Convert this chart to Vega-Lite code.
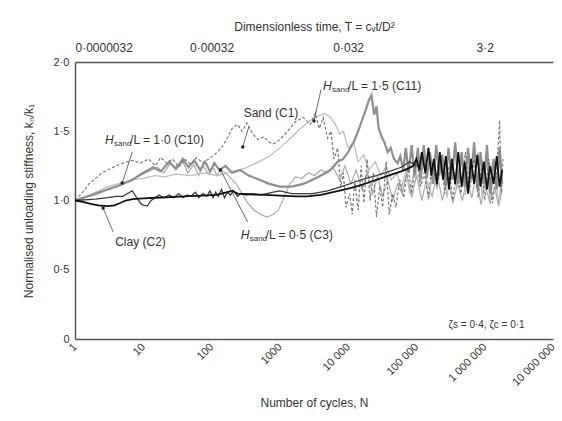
{
"$schema": "https://vega.github.io/schema/vega-lite/v6.json",
"width": 478, "height": 277,
"autosize": {"type": "none"},
"padding": {"left": 75, "top": 62, "right": 9, "bottom": 82},
"background": "white",
"config": {"font": "Liberation Sans", "view": {"stroke": null}},
"datasets": {
"lines": [
{"s":"C3","n":1,"k":1.0},{"s":"C3","n":2,"k":1.04},{"s":"C3","n":3,"k":1.08},{"s":"C3","n":5,"k":1.12},{"s":"C3","n":8,"k":1.17},{"s":"C3","n":12,"k":1.21},{"s":"C3","n":16,"k":1.24},{"s":"C3","n":20,"k":1.2},{"s":"C3","n":25,"k":1.27},{"s":"C3","n":30,"k":1.22},{"s":"C3","n":38,"k":1.28},{"s":"C3","n":45,"k":1.2},{"s":"C3","n":55,"k":1.26},{"s":"C3","n":65,"k":1.18},{"s":"C3","n":75,"k":1.25},{"s":"C3","n":90,"k":1.19},{"s":"C3","n":105,"k":1.24},{"s":"C3","n":120,"k":1.18},{"s":"C3","n":135,"k":1.22},{"s":"C3","n":160,"k":1.2},{"s":"C3","n":190,"k":1.16},{"s":"C3","n":230,"k":1.12},{"s":"C3","n":280,"k":1.05},{"s":"C3","n":340,"k":0.98},{"s":"C3","n":420,"k":0.93},{"s":"C3","n":520,"k":0.9},{"s":"C3","n":650,"k":0.88},{"s":"C3","n":800,"k":0.9},{"s":"C3","n":950,"k":0.93},{"s":"C3","n":1150,"k":1.02},{"s":"C3","n":1400,"k":1.12},{"s":"C3","n":1700,"k":1.17},{"s":"C3","n":2100,"k":1.16},{"s":"C3","n":2600,"k":1.2},{"s":"C3","n":3200,"k":1.18},{"s":"C3","n":4000,"k":1.22},{"s":"C3","n":5000,"k":1.2},{"s":"C3","n":6000,"k":1.24},{"s":"C3","n":7500,"k":1.15},{"s":"C3","n":9000,"k":1.25},{"s":"C3","n":11000,"k":1.12},{"s":"C3","n":13000,"k":1.22},{"s":"C3","n":16000,"k":1.08},{"s":"C3","n":19000,"k":1.2},{"s":"C3","n":23000,"k":1.05},{"s":"C3","n":27000,"k":1.18},{"s":"C3","n":32000,"k":1.03},{"s":"C3","n":38000,"k":1.15},{"s":"C3","n":45000,"k":1.0},{"s":"C3","n":53000,"k":1.12},{"s":"C3","n":62000,"k":1.05},{"s":"C3","n":72000,"k":1.2},{"s":"C3","n":85000,"k":1.02},{"s":"C3","n":100000,"k":1.18},{"s":"C3","n":120000,"k":1.0},{"s":"C3","n":140000,"k":1.15},{"s":"C3","n":170000,"k":1.03},{"s":"C3","n":200000,"k":1.2},{"s":"C3","n":240000,"k":1.0},{"s":"C3","n":290000,"k":1.17},{"s":"C3","n":340000,"k":0.98},{"s":"C3","n":400000,"k":1.12},{"s":"C3","n":470000,"k":1.0},{"s":"C3","n":550000,"k":1.15},{"s":"C3","n":650000,"k":1.02},{"s":"C3","n":750000,"k":1.2},{"s":"C3","n":880000,"k":0.97},{"s":"C3","n":1000000,"k":1.12},{"s":"C3","n":1200000,"k":0.98},{"s":"C3","n":1400000,"k":1.1},{"s":"C3","n":1600000,"k":0.96},{"s":"C3","n":1800000,"k":1.08},
{"s":"C10","n":1,"k":1.0},{"s":"C10","n":1.5,"k":1.03},{"s":"C10","n":2,"k":1.06},{"s":"C10","n":3,"k":1.1},{"s":"C10","n":5,"k":1.13},{"s":"C10","n":7,"k":1.15},{"s":"C10","n":10,"k":1.16},{"s":"C10","n":15,"k":1.18},{"s":"C10","n":20,"k":1.17},{"s":"C10","n":30,"k":1.19},{"s":"C10","n":50,"k":1.18},{"s":"C10","n":80,"k":1.2},{"s":"C10","n":120,"k":1.18},{"s":"C10","n":150,"k":1.19},{"s":"C10","n":200,"k":1.21},{"s":"C10","n":300,"k":1.23},{"s":"C10","n":450,"k":1.27},{"s":"C10","n":700,"k":1.32},{"s":"C10","n":1000,"k":1.38},{"s":"C10","n":1500,"k":1.46},{"s":"C10","n":2000,"k":1.52},{"s":"C10","n":3000,"k":1.59},{"s":"C10","n":4500,"k":1.63},{"s":"C10","n":5500,"k":1.6},{"s":"C10","n":6500,"k":1.55},{"s":"C10","n":7500,"k":1.48},{"s":"C10","n":8500,"k":1.5},{"s":"C10","n":10000,"k":1.38},{"s":"C10","n":12000,"k":1.42},{"s":"C10","n":14000,"k":1.28},{"s":"C10","n":17000,"k":1.33},{"s":"C10","n":20000,"k":1.22},{"s":"C10","n":25000,"k":1.28},{"s":"C10","n":30000,"k":1.18},{"s":"C10","n":36000,"k":1.25},{"s":"C10","n":43000,"k":1.15},{"s":"C10","n":52000,"k":1.2},{"s":"C10","n":60000,"k":1.08},{"s":"C10","n":70000,"k":1.22},{"s":"C10","n":80000,"k":1.05},{"s":"C10","n":95000,"k":1.25},{"s":"C10","n":110000,"k":1.1},{"s":"C10","n":130000,"k":1.3},{"s":"C10","n":150000,"k":1.0},{"s":"C10","n":175000,"k":1.22},{"s":"C10","n":200000,"k":1.08},{"s":"C10","n":240000,"k":1.3},{"s":"C10","n":280000,"k":1.02},{"s":"C10","n":320000,"k":1.25},{"s":"C10","n":380000,"k":1.1},{"s":"C10","n":450000,"k":1.32},{"s":"C10","n":520000,"k":1.04},{"s":"C10","n":600000,"k":1.28},{"s":"C10","n":700000,"k":1.12},{"s":"C10","n":800000,"k":1.35},{"s":"C10","n":920000,"k":1.02},{"s":"C10","n":1050000,"k":1.3},{"s":"C10","n":1200000,"k":1.0},{"s":"C10","n":1400000,"k":1.22},{"s":"C10","n":1600000,"k":0.98},{"s":"C10","n":1800000,"k":1.2},
{"s":"C11","n":1,"k":1.0},{"s":"C11","n":2,"k":1.05},{"s":"C11","n":4,"k":1.1},{"s":"C11","n":7,"k":1.15},{"s":"C11","n":10,"k":1.2},{"s":"C11","n":14,"k":1.24},{"s":"C11","n":18,"k":1.21},{"s":"C11","n":24,"k":1.28},{"s":"C11","n":30,"k":1.23},{"s":"C11","n":38,"k":1.3},{"s":"C11","n":46,"k":1.24},{"s":"C11","n":56,"k":1.29},{"s":"C11","n":68,"k":1.22},{"s":"C11","n":80,"k":1.28},{"s":"C11","n":95,"k":1.21},{"s":"C11","n":110,"k":1.27},{"s":"C11","n":130,"k":1.22},{"s":"C11","n":160,"k":1.25},{"s":"C11","n":200,"k":1.2},{"s":"C11","n":260,"k":1.22},{"s":"C11","n":350,"k":1.18},{"s":"C11","n":500,"k":1.15},{"s":"C11","n":700,"k":1.12},{"s":"C11","n":1000,"k":1.1},{"s":"C11","n":1500,"k":1.1},{"s":"C11","n":2200,"k":1.12},{"s":"C11","n":3000,"k":1.15},{"s":"C11","n":4000,"k":1.18},{"s":"C11","n":5500,"k":1.22},{"s":"C11","n":7000,"k":1.28},{"s":"C11","n":8500,"k":1.3},{"s":"C11","n":10000,"k":1.35},{"s":"C11","n":12000,"k":1.42},{"s":"C11","n":14000,"k":1.5},{"s":"C11","n":16000,"k":1.58},{"s":"C11","n":18000,"k":1.65},{"s":"C11","n":20000,"k":1.72},{"s":"C11","n":22000,"k":1.76},{"s":"C11","n":24000,"k":1.62},{"s":"C11","n":26000,"k":1.68},{"s":"C11","n":28000,"k":1.52},{"s":"C11","n":31000,"k":1.46},{"s":"C11","n":34000,"k":1.42},{"s":"C11","n":38000,"k":1.35},{"s":"C11","n":42000,"k":1.38},{"s":"C11","n":47000,"k":1.3},{"s":"C11","n":53000,"k":1.27},{"s":"C11","n":58000,"k":1.32},{"s":"C11","n":64000,"k":1.22},{"s":"C11","n":70000,"k":1.38},{"s":"C11","n":77000,"k":1.2},{"s":"C11","n":85000,"k":1.4},{"s":"C11","n":94000,"k":1.18},{"s":"C11","n":105000,"k":1.38},{"s":"C11","n":115000,"k":1.15},{"s":"C11","n":128000,"k":1.4},{"s":"C11","n":142000,"k":1.16},{"s":"C11","n":158000,"k":1.35},{"s":"C11","n":175000,"k":1.12},{"s":"C11","n":195000,"k":1.4},{"s":"C11","n":215000,"k":1.18},{"s":"C11","n":240000,"k":1.33},{"s":"C11","n":265000,"k":1.1},{"s":"C11","n":295000,"k":1.38},{"s":"C11","n":330000,"k":1.15},{"s":"C11","n":370000,"k":1.42},{"s":"C11","n":410000,"k":1.12},{"s":"C11","n":460000,"k":1.35},{"s":"C11","n":510000,"k":1.1},{"s":"C11","n":570000,"k":1.38},{"s":"C11","n":630000,"k":1.15},{"s":"C11","n":700000,"k":1.42},{"s":"C11","n":780000,"k":1.08},{"s":"C11","n":870000,"k":1.35},{"s":"C11","n":970000,"k":1.12},{"s":"C11","n":1080000,"k":1.4},{"s":"C11","n":1200000,"k":1.05},{"s":"C11","n":1350000,"k":1.3},{"s":"C11","n":1500000,"k":1.08},{"s":"C11","n":1650000,"k":1.38},{"s":"C11","n":1800000,"k":1.12},
{"s":"C1","n":1,"k":1.0},{"s":"C1","n":1.3,"k":1.06},{"s":"C1","n":1.6,"k":1.12},{"s":"C1","n":2,"k":1.16},{"s":"C1","n":2.5,"k":1.2},{"s":"C1","n":3,"k":1.22},{"s":"C1","n":4,"k":1.25},{"s":"C1","n":5,"k":1.27},{"s":"C1","n":7,"k":1.29},{"s":"C1","n":9,"k":1.27},{"s":"C1","n":12,"k":1.3},{"s":"C1","n":15,"k":1.25},{"s":"C1","n":18,"k":1.31},{"s":"C1","n":22,"k":1.27},{"s":"C1","n":27,"k":1.3},{"s":"C1","n":33,"k":1.24},{"s":"C1","n":40,"k":1.3},{"s":"C1","n":50,"k":1.26},{"s":"C1","n":60,"k":1.31},{"s":"C1","n":75,"k":1.27},{"s":"C1","n":90,"k":1.3},{"s":"C1","n":110,"k":1.33},{"s":"C1","n":140,"k":1.38},{"s":"C1","n":170,"k":1.45},{"s":"C1","n":200,"k":1.52},{"s":"C1","n":240,"k":1.55},{"s":"C1","n":280,"k":1.5},{"s":"C1","n":330,"k":1.56},{"s":"C1","n":400,"k":1.48},{"s":"C1","n":480,"k":1.44},{"s":"C1","n":580,"k":1.46},{"s":"C1","n":700,"k":1.42},{"s":"C1","n":820,"k":1.41},{"s":"C1","n":1000,"k":1.44},{"s":"C1","n":1300,"k":1.5},{"s":"C1","n":1700,"k":1.57},{"s":"C1","n":2200,"k":1.6},{"s":"C1","n":2800,"k":1.55},{"s":"C1","n":3300,"k":1.63},{"s":"C1","n":3800,"k":1.52},{"s":"C1","n":4300,"k":1.6},{"s":"C1","n":5000,"k":1.45},{"s":"C1","n":5600,"k":1.5},{"s":"C1","n":6200,"k":1.3},{"s":"C1","n":7000,"k":1.38},{"s":"C1","n":7800,"k":1.1},{"s":"C1","n":8500,"k":1.2},{"s":"C1","n":9300,"k":0.95},{"s":"C1","n":10500,"k":1.05},{"s":"C1","n":11500,"k":0.9},{"s":"C1","n":12500,"k":1.15},{"s":"C1","n":14000,"k":0.93},{"s":"C1","n":15500,"k":1.25},{"s":"C1","n":17000,"k":0.98},{"s":"C1","n":19000,"k":1.3},{"s":"C1","n":21000,"k":1.0},{"s":"C1","n":23500,"k":1.2},{"s":"C1","n":26000,"k":0.88},{"s":"C1","n":29000,"k":1.1},{"s":"C1","n":32000,"k":0.95},{"s":"C1","n":36000,"k":1.28},{"s":"C1","n":40000,"k":0.9},{"s":"C1","n":45000,"k":1.05},{"s":"C1","n":50000,"k":0.95},{"s":"C1","n":57000,"k":1.15},{"s":"C1","n":65000,"k":1.02},{"s":"C1","n":75000,"k":1.25},{"s":"C1","n":85000,"k":1.05},{"s":"C1","n":100000,"k":1.3},{"s":"C1","n":115000,"k":1.1},{"s":"C1","n":130000,"k":1.2},{"s":"C1","n":150000,"k":1.02},{"s":"C1","n":170000,"k":1.28},{"s":"C1","n":200000,"k":1.1},{"s":"C1","n":230000,"k":1.3},{"s":"C1","n":260000,"k":1.05},{"s":"C1","n":300000,"k":1.25},{"s":"C1","n":340000,"k":1.0},{"s":"C1","n":390000,"k":1.22},{"s":"C1","n":450000,"k":1.05},{"s":"C1","n":520000,"k":1.35},{"s":"C1","n":600000,"k":1.08},{"s":"C1","n":700000,"k":1.3},{"s":"C1","n":800000,"k":1.02},{"s":"C1","n":900000,"k":1.25},{"s":"C1","n":1000000,"k":1.0},{"s":"C1","n":1150000,"k":1.3},{"s":"C1","n":1300000,"k":0.98},{"s":"C1","n":1500000,"k":1.2},{"s":"C1","n":1650000,"k":1.58},{"s":"C1","n":1750000,"k":1.05},{"s":"C1","n":1850000,"k":1.3},
{"s":"C2b","n":1,"k":1.0},{"s":"C2b","n":2,"k":1.01},{"s":"C2b","n":3,"k":1.02},{"s":"C2b","n":4,"k":1.03},{"s":"C2b","n":5,"k":1.03},{"s":"C2b","n":6.9,"k":1.07},{"s":"C2b","n":8,"k":1.02},{"s":"C2b","n":9.5,"k":0.97},{"s":"C2b","n":11.4,"k":0.96},{"s":"C2b","n":13,"k":1.0},{"s":"C2b","n":15,"k":1.02},{"s":"C2b","n":17,"k":1.04},{"s":"C2b","n":20,"k":1.02},{"s":"C2b","n":24,"k":1.04},{"s":"C2b","n":28,"k":1.02},{"s":"C2b","n":33,"k":1.05},{"s":"C2b","n":38,"k":1.02},{"s":"C2b","n":44,"k":1.04},{"s":"C2b","n":50,"k":1.03},{"s":"C2b","n":58,"k":1.06},{"s":"C2b","n":65,"k":1.02},{"s":"C2b","n":75,"k":1.05},{"s":"C2b","n":85,"k":1.03},{"s":"C2b","n":95,"k":1.07},{"s":"C2b","n":105,"k":1.02},{"s":"C2b","n":115,"k":1.06},{"s":"C2b","n":125,"k":1.03},{"s":"C2b","n":140,"k":1.08},{"s":"C2b","n":155,"k":1.02},{"s":"C2b","n":170,"k":1.06},{"s":"C2b","n":190,"k":1.04},{"s":"C2b","n":210,"k":1.07},{"s":"C2b","n":240,"k":1.03},{"s":"C2b","n":270,"k":1.05},{"s":"C2b","n":320,"k":1.04},{"s":"C2b","n":400,"k":1.05},{"s":"C2b","n":500,"k":1.04},{"s":"C2b","n":650,"k":1.05},{"s":"C2b","n":800,"k":1.06},{"s":"C2b","n":1000,"k":1.07},{"s":"C2b","n":1200,"k":1.06},{"s":"C2b","n":1500,"k":1.05},{"s":"C2b","n":2000,"k":1.05},{"s":"C2b","n":3000,"k":1.05},{"s":"C2b","n":5000,"k":1.07},{"s":"C2b","n":8000,"k":1.1},{"s":"C2b","n":12000,"k":1.13},{"s":"C2b","n":18000,"k":1.16},{"s":"C2b","n":26000,"k":1.18},{"s":"C2b","n":40000,"k":1.21},{"s":"C2b","n":60000,"k":1.24},{"s":"C2b","n":80000,"k":1.28},{"s":"C2b","n":100000,"k":1.25},
{"s":"C2","n":1,"k":1.0},{"s":"C2","n":1.3,"k":0.99},{"s":"C2","n":1.7,"k":0.975},{"s":"C2","n":2.2,"k":0.965},{"s":"C2","n":3,"k":0.96},{"s":"C2","n":3.8,"k":0.965},{"s":"C2","n":4.5,"k":0.98},{"s":"C2","n":5.5,"k":1.0},{"s":"C2","n":7,"k":1.01},{"s":"C2","n":10,"k":1.015},{"s":"C2","n":15,"k":1.02},{"s":"C2","n":25,"k":1.025},{"s":"C2","n":40,"k":1.03},{"s":"C2","n":70,"k":1.035},{"s":"C2","n":120,"k":1.04},{"s":"C2","n":170,"k":1.06},{"s":"C2","n":200,"k":1.07},{"s":"C2","n":240,"k":1.05},{"s":"C2","n":350,"k":1.045},{"s":"C2","n":600,"k":1.04},{"s":"C2","n":1000,"k":1.035},{"s":"C2","n":1700,"k":1.03},{"s":"C2","n":2500,"k":1.03},{"s":"C2","n":4000,"k":1.04},{"s":"C2","n":6000,"k":1.06},{"s":"C2","n":9000,"k":1.08},{"s":"C2","n":13000,"k":1.1},{"s":"C2","n":20000,"k":1.13},{"s":"C2","n":30000,"k":1.16},{"s":"C2","n":45000,"k":1.19},{"s":"C2","n":60000,"k":1.21},{"s":"C2","n":75000,"k":1.23},{"s":"C2","n":90000,"k":1.25},{"s":"C2","n":100000,"k":1.3},{"s":"C2","n":110000,"k":1.22},{"s":"C2","n":120000,"k":1.35},{"s":"C2","n":135000,"k":1.2},{"s":"C2","n":150000,"k":1.38},{"s":"C2","n":165000,"k":1.18},{"s":"C2","n":180000,"k":1.3},{"s":"C2","n":200000,"k":1.12},{"s":"C2","n":220000,"k":1.35},{"s":"C2","n":245000,"k":1.15},{"s":"C2","n":270000,"k":1.32},{"s":"C2","n":300000,"k":1.08},{"s":"C2","n":330000,"k":1.3},{"s":"C2","n":370000,"k":1.12},{"s":"C2","n":410000,"k":1.35},{"s":"C2","n":460000,"k":1.1},{"s":"C2","n":510000,"k":1.28},{"s":"C2","n":570000,"k":1.05},{"s":"C2","n":630000,"k":1.3},{"s":"C2","n":700000,"k":1.12},{"s":"C2","n":780000,"k":1.33},{"s":"C2","n":870000,"k":1.1},{"s":"C2","n":970000,"k":1.28},{"s":"C2","n":1080000,"k":1.08},{"s":"C2","n":1200000,"k":1.25},{"s":"C2","n":1350000,"k":1.12},{"s":"C2","n":1500000,"k":1.32},{"s":"C2","n":1650000,"k":1.1},{"s":"C2","n":1800000,"k":1.22}
],
"plain": [
{"t":"Sand (C1)","n":295,"k":1.63},
{"t":"Clay (C2)","n":3.87,"k":0.7}
],
"hlabels": [
{"t":"/L = 1·0 (C10)","n":2.76,"k":1.437},
{"t":"/L = 1·5 (C11)","n":4300,"k":1.83},
{"t":"/L = 0·5 (C3)","n":267,"k":0.75}
],
"zeta": [
{"t":"ζs = 0·4, ζc = 0·1","n":296000,"k":0.1}
],
"leaders": [
{"n":6.9,"k":1.35,"n2":4.91,"k2":1.126},
{"n":3.62,"k":0.773,"n2":2.58,"k2":0.946},
{"n":350,"k":1.53,"n2":286,"k2":1.386},
{"n":4000,"k":1.8,"n2":3160,"k2":1.574},
{"n":338,"k":0.845,"n2":135,"k2":1.22}
]
},
"resolve": {"axis": {"x": "independent", "y": "independent"}},
"layer": [
{
"data": {"name": "lines"},
"transform": [{"filter": "datum.s == 'C3'"}],
"mark": {"type": "line", "color": "#aaaaaa", "strokeWidth": 1.2},
"encoding": {
"x": {"field": "n", "type": "quantitative", "scale": {"type": "log", "domain": [1, 10000000], "nice": false},
"axis": {"orient": "bottom", "values": [1,10,100,1000,10000,100000,1000000,10000000],
"labelExpr": "datum.value >= 10000 ? replace(format(datum.value, ','), regexp(',', 'g'), ' ') : format(datum.value, 'd')",
"labelAngle": -45, "labelAlign": "right", "labelBaseline": "middle", "labelFontSize": 11, "labelColor": "#333", "labelPadding": 6,
"ticks": false, "grid": false, "domainColor": "#555", "domainWidth": 1.5,
"title": "Number of cycles, N", "titleFontSize": 12, "titleFontWeight": "normal", "titleColor": "#333", "titlePadding": 10}},
"y": {"field": "k", "type": "quantitative", "scale": {"domain": [0, 2], "nice": false},
"axis": {"values": [0, 0.5, 1, 1.5, 2], "labelExpr": "datum.value == 0 ? '0' : replace(format(datum.value, '.1f'), '.', '·')",
"labelFontSize": 11, "labelColor": "#333", "ticks": false, "grid": false, "domainColor": "#555", "domainWidth": 1.5, "labelPadding": 6,
"title": "Normalised unloading stiffness, kₙ/k₁", "titleFontSize": 12, "titleFontWeight": "normal", "titleColor": "#333", "titlePadding": 18}}
}
},
{
"data": {"name": "lines"},
"transform": [{"filter": "datum.s == 'C10'"}],
"mark": {"type": "line", "color": "#bbbbbb", "strokeWidth": 1.2},
"encoding": {
"x": {"field": "n", "type": "quantitative", "scale": {"type": "log", "domain": [1, 10000000], "nice": false},
"axis": {"orient": "top", "values": [1,100,10000,1000000],
"labelExpr": "datum.value < 10 ? '0·0000032' : datum.value < 1000 ? '0·00032' : datum.value < 100000 ? '0·032' : '3·2'",
"labelAngle": 0, "labelFontSize": 12, "labelColor": "#333", "labelPadding": 8,
"ticks": false, "grid": false, "domainColor": "#555", "domainWidth": 1.5,
"title": "Dimensionless time, T = cᵥt/D²", "titleFontSize": 12, "titleFontWeight": "normal", "titleColor": "#333", "titlePadding": 8}},
"y": {"field": "k", "type": "quantitative", "axis": null}
}
},
{
"data": {"name": "lines"},
"transform": [{"filter": "datum.s == 'C11'"}],
"mark": {"type": "line", "color": "#8f8f8f", "strokeWidth": 2.2},
"encoding": {"x": {"field": "n", "type": "quantitative", "axis": null}, "y": {"field": "k", "type": "quantitative", "axis": null}}
},
{
"data": {"name": "lines"},
"transform": [{"filter": "datum.s == 'C1'"}],
"mark": {"type": "line", "color": "#7a7a7a", "strokeWidth": 1.2, "strokeDash": [3, 2]},
"encoding": {"x": {"field": "n", "type": "quantitative", "axis": null}, "y": {"field": "k", "type": "quantitative", "axis": null}}
},
{
"data": {"name": "lines"},
"transform": [{"filter": "datum.s == 'C2b'"}],
"mark": {"type": "line", "color": "#3a3a3a", "strokeWidth": 1.3},
"encoding": {"x": {"field": "n", "type": "quantitative", "axis": null}, "y": {"field": "k", "type": "quantitative", "axis": null}}
},
{
"data": {"name": "lines"},
"transform": [{"filter": "datum.s == 'C2'"}],
"mark": {"type": "line", "color": "#111111", "strokeWidth": 1.8},
"encoding": {"x": {"field": "n", "type": "quantitative", "axis": null}, "y": {"field": "k", "type": "quantitative", "axis": null}}
},
{
"data": {"name": "leaders"},
"mark": {"type": "rule", "color": "#444", "strokeWidth": 0.8},
"encoding": {"x": {"field": "n", "type": "quantitative", "axis": null}, "y": {"field": "k", "type": "quantitative", "axis": null},
"x2": {"field": "n2"}, "y2": {"field": "k2"}}
},
{
"data": {"name": "leaders"},
"mark": {"type": "point", "filled": true, "color": "#222", "size": 12, "opacity": 1},
"encoding": {"x": {"field": "n2", "type": "quantitative", "axis": null}, "y": {"field": "k2", "type": "quantitative", "axis": null}}
},
{
"data": {"name": "plain"},
"mark": {"type": "text", "align": "left", "baseline": "middle", "fontSize": 12, "color": "#333"},
"encoding": {"x": {"field": "n", "type": "quantitative", "axis": null}, "y": {"field": "k", "type": "quantitative", "axis": null}, "text": {"field": "t"}}
},
{
"data": {"name": "zeta"},
"mark": {"type": "text", "align": "left", "baseline": "middle", "fontSize": 10, "color": "#333"},
"encoding": {"x": {"field": "n", "type": "quantitative", "axis": null}, "y": {"field": "k", "type": "quantitative", "axis": null}, "text": {"field": "t"}}
},
{
"data": {"name": "hlabels"},
"mark": {"type": "text", "align": "left", "baseline": "middle", "fontSize": 12, "fontStyle": "italic", "color": "#333", "text": "H"},
"encoding": {"x": {"field": "n", "type": "quantitative", "axis": null}, "y": {"field": "k", "type": "quantitative", "axis": null}}
},
{
"data": {"name": "hlabels"},
"mark": {"type": "text", "align": "left", "baseline": "middle", "fontSize": 8, "color": "#333", "text": "sand", "dx": 9, "dy": 4},
"encoding": {"x": {"field": "n", "type": "quantitative", "axis": null}, "y": {"field": "k", "type": "quantitative", "axis": null}}
},
{
"data": {"name": "hlabels"},
"mark": {"type": "text", "align": "left", "baseline": "middle", "fontSize": 12, "color": "#333", "dx": 25},
"encoding": {"x": {"field": "n", "type": "quantitative", "axis": null}, "y": {"field": "k", "type": "quantitative", "axis": null}, "text": {"field": "t"}}
}
]
}
